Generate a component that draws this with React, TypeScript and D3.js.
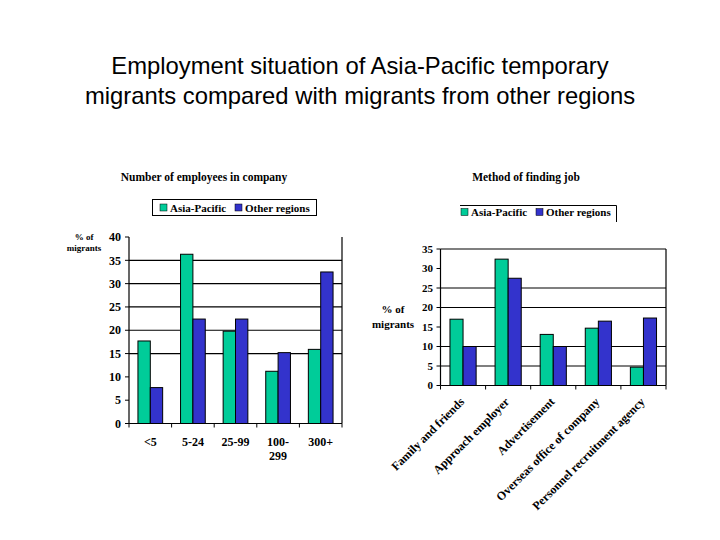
import React from "react";
import * as d3 from "d3";

const series = ["Asia-Pacific", "Other regions"];
const colors = ["#00CC99", "#3333CC"];

// Number of employees in company
const sizeCats = ["<5", "5-24", "25-99", "100-299", "300+"];
const sizeLabels = [["<5"], ["5-24"], ["25-99"], ["100-", "299"], ["300+"]];
const sizeAsia = [17.7, 36.3, 19.8, 11.2, 15.9];
const sizeOther = [7.7, 22.4, 22.4, 15.2, 32.5];
const sizeTicks = [0, 5, 10, 15, 20, 25, 30, 35, 40];
const sizeGrid = [15, 20, 25, 30, 35];

// Method of finding job
const methodCats = [
  "Family and friends",
  "Approach employer",
  "Advertisement",
  "Overseas office of company",
  "Personnel recruitment agency",
];
const methodAsia = [17.0, 32.4, 13.1, 14.7, 4.7];
const methodOther = [10.0, 27.5, 10.0, 16.5, 17.3];
const methodTicks = [0, 5, 10, 15, 20, 25, 30, 35];
const methodGrid = [5, 10, 20, 25];

const serif = "'Liberation Serif', 'Times New Roman', serif";

function Bars({ cats, values, x, y }) {
  const bw = x.bandwidth();
  const x1 = d3.scaleBand().domain(series).range([bw * 0.21, bw * 0.79]);
  return (
    <g>
      {cats.map((c, i) =>
        series.map((s, j) => {
          const v = values[j][i];
          return (
            <rect
              key={c + s}
              x={x(c) + x1(s)}
              y={y(v)}
              width={x1.bandwidth()}
              height={y(0) - y(v)}
              fill={colors[j]}
              stroke="#000"
              strokeWidth={1}
            />
          );
        })
      )}
    </g>
  );
}

function Legend({ x, y, fontSize }) {
  const offs = [0, 75];
  return (
    <g fontFamily={serif} fontWeight="bold" fontSize={fontSize}>
      {series.map((s, i) => (
        <g key={s} transform={`translate(${x + offs[i]},${y})`}>
          <rect x={0} y={-4} width={7} height={7} fill={colors[i]} stroke="#000" strokeWidth={0.5} />
          <text x={10} y={0} dy="0.35em">{s}</text>
        </g>
      ))}
    </g>
  );
}

export default function App() {
  // left chart scales
  const xL = d3.scaleBand().domain(sizeCats).range([129, 342]);
  const yL = d3.scaleLinear().domain([0, 40]).range([423.5, 237]);
  // right chart scales
  const xR = d3.scaleBand().domain(methodCats).range([440.5, 666]);
  const yR = d3.scaleLinear().domain([0, 35]).range([385.5, 249]);

  const boundsL = sizeCats.map((c) => xL(c)).concat([xL.range()[1]]);
  const boundsR = methodCats.map((c) => xR(c)).concat([xR.range()[1]]);

  return (
    <div style={{ position: "absolute", left: 0, top: 0 }}>
      <svg width={720} height={540} style={{ display: "block", background: "#fff" }}>
        <g fontFamily="'Liberation Sans', Arial, sans-serif" fontSize={23.8} textAnchor="middle" fill="#000">
          <text x={360} y={74}>Employment situation of Asia-Pacific temporary</text>
          <text x={360} y={104}>migrants compared with migrants from other regions</text>
        </g>

        {/* ---------- left chart ---------- */}
        <text x={204} y={181} textAnchor="middle" fontFamily={serif} fontWeight="bold" fontSize={11.5}>
          Number of employees in company
        </text>
        <rect x={152.5} y={199.5} width={164} height={16} fill="none" stroke="#000" strokeWidth={1} />
        <Legend x={160} y={208} fontSize={11} />

        {sizeGrid.map((t) => (
          <line key={t} x1={129} x2={342} y1={yL(t)} y2={yL(t)} stroke="#000" strokeWidth={1.2} />
        ))}
        <Bars cats={sizeCats} values={[sizeAsia, sizeOther]} x={xL} y={yL} />
        <line x1={129} x2={129} y1={yL(40)} y2={yL(0)} stroke="#000" strokeWidth={1.2} />
        <line x1={342} x2={342} y1={yL(40)} y2={yL(0)} stroke="#000" strokeWidth={1.2} />
        <line x1={129} x2={342} y1={yL(0)} y2={yL(0)} stroke="#000" strokeWidth={1.2} />
        {sizeTicks.map((t) => (
          <g key={t}>
            <line x1={125} x2={129} y1={yL(t)} y2={yL(t)} stroke="#000" />
            <text x={121} y={yL(t)} dy="0.35em" textAnchor="end" fontFamily={serif} fontWeight="bold" fontSize={12}>
              {t}
            </text>
          </g>
        ))}
        {boundsL.map((b, i) => (
          <line key={i} x1={b} x2={b} y1={yL(0)} y2={yL(0) + 4} stroke="#000" />
        ))}
        {sizeCats.map((c, i) => (
          <text key={c} textAnchor="middle" fontFamily={serif} fontWeight="bold" fontSize={12}>
            {sizeLabels[i].map((l, k) => (
              <tspan key={k} x={xL(c) + xL.bandwidth() / 2} y={446 + k * 14}>
                {l}
              </tspan>
            ))}
          </text>
        ))}
        <text textAnchor="middle" fontFamily={serif} fontWeight="bold" fontSize={9}>
          <tspan x={84} y={240}>% of</tspan>
          <tspan x={84} y={251}>migrants</tspan>
        </text>

        {/* ---------- right chart ---------- */}
        <text x={526} y={181} textAnchor="middle" fontFamily={serif} fontWeight="bold" fontSize={11.5}>
          Method of finding job
        </text>
        <polyline points="460,205.5 616.5,205.5 616.5,222" fill="none" stroke="#000" strokeWidth={1} />
        <Legend x={461} y={212.5} fontSize={11} />

        {methodGrid.map((t) => (
          <line key={t} x1={440.5} x2={666} y1={yR(t)} y2={yR(t)} stroke="#000" strokeWidth={1.2} />
        ))}
        <Bars cats={methodCats} values={[methodAsia, methodOther]} x={xR} y={yR} />
        <line x1={440.5} x2={666} y1={yR(35)} y2={yR(35)} stroke="#000" strokeWidth={1.2} />
        <line x1={440.5} x2={440.5} y1={yR(35)} y2={yR(0)} stroke="#000" strokeWidth={1.2} />
        <line x1={666} x2={666} y1={yR(35)} y2={yR(0)} stroke="#000" strokeWidth={1.2} />
        <line x1={440.5} x2={666} y1={yR(0)} y2={yR(0)} stroke="#000" strokeWidth={1.2} />
        {methodTicks.map((t) => (
          <g key={t}>
            <line x1={436.5} x2={440.5} y1={yR(t)} y2={yR(t)} stroke="#000" />
            <text x={433} y={yR(t)} dy="0.35em" textAnchor="end" fontFamily={serif} fontWeight="bold" fontSize={11}>
              {t}
            </text>
          </g>
        ))}
        {boundsR.map((b, i) => (
          <line key={i} x1={b} x2={b} y1={yR(0)} y2={yR(0) + 4} stroke="#000" />
        ))}
        {methodCats.map((c) => {
          const cx = xR(c) + xR.bandwidth() / 2 - 1;
          const cy = yR(0) + 14;
          return (
            <text
              key={c}
              transform={`translate(${cx},${cy}) rotate(-45)`}
              textAnchor="end"
              dy="0.35em"
              fontFamily={serif}
              fontWeight="bold"
              fontSize={12}
            >
              {c}
            </text>
          );
        })}
        <text textAnchor="middle" fontFamily={serif} fontWeight="bold" fontSize={11}>
          <tspan x={393} y={313}>% of</tspan>
          <tspan x={393} y={328}>migrants</tspan>
        </text>
      </svg>
    </div>
  );
}
